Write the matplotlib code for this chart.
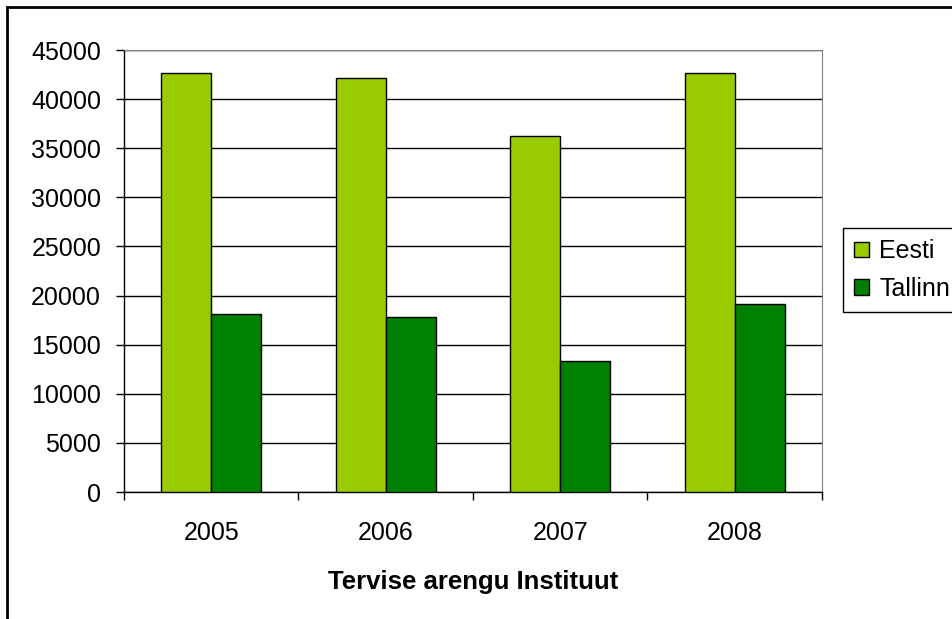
import matplotlib
matplotlib.use('Agg')
import matplotlib.pyplot as plt
from matplotlib.patches import Rectangle
import numpy as np

plt.rcParams['font.family'] = ['Liberation Sans', 'DejaVu Sans']

years = ['2005', '2006', '2007', '2008']
eesti = [42700, 42100, 36200, 42700]
tallinn = [18150, 17850, 13300, 19100]
series_names = ['Eesti', 'Tallinn']
C_EESTI, C_TALLINN = '#99CC00', '#008000'

fig = plt.figure(figsize=(9.53, 6.19), dpi=100)
ax = fig.add_axes([124/953, 1 - 492/619, 698/953, 442/619])

x = np.arange(len(years))
w = 0.2865
ax.bar(x - w/2, eesti, w, color=C_EESTI, edgecolor='black', linewidth=1, label=series_names[0], zorder=3)
ax.bar(x + w/2, tallinn, w, color=C_TALLINN, edgecolor='black', linewidth=1, label=series_names[1], zorder=3)

ax.set_xlim(-0.5, len(years) - 0.5)
ax.set_ylim(0, 45000)
ax.set_yticks(np.arange(0, 45001, 5000))
ax.yaxis.grid(True, color='black', linewidth=1)
ax.set_axisbelow(True)

# category labels centred, ticks between categories
ax.set_xticks(x)
ax.set_xticklabels(years, fontsize=18)
ax.set_xticks(np.arange(-0.5, len(years), 1), minor=True)
ax.tick_params(axis='x', which='major', length=0, pad=21)
ax.tick_params(axis='x', which='minor', length=6, width=1, direction='out')
ax.tick_params(axis='y', length=6, width=1, direction='out', labelsize=18, pad=10.5)
ax.set_xlabel('Tervise arengu Instituut', fontsize=18.5, fontweight='bold', labelpad=18)

for side in ['top', 'right']:
    ax.spines[side].set_color('#808080')
for side in ['left', 'bottom']:
    ax.spines[side].set_color('black')
    ax.spines[side].set_linewidth(1)

leg = fig.legend(loc='upper left', bbox_to_anchor=(843/953, 1 - 228/619), fontsize=18,
                 fancybox=False, framealpha=1, edgecolor='black', handlelength=0.6,
                 handleheight=0.6, handletextpad=0.4, borderpad=0.45, labelspacing=0.55,
                 borderaxespad=0)
leg.get_frame().set_linewidth(1)

# outer chart border
fig.patches.append(Rectangle((7/953, -0.1), 1.2, 1.1 - 7/619, transform=fig.transFigure,
                             fill=False, edgecolor='black', linewidth=2))

fig.savefig('out.png', dpi=100)
